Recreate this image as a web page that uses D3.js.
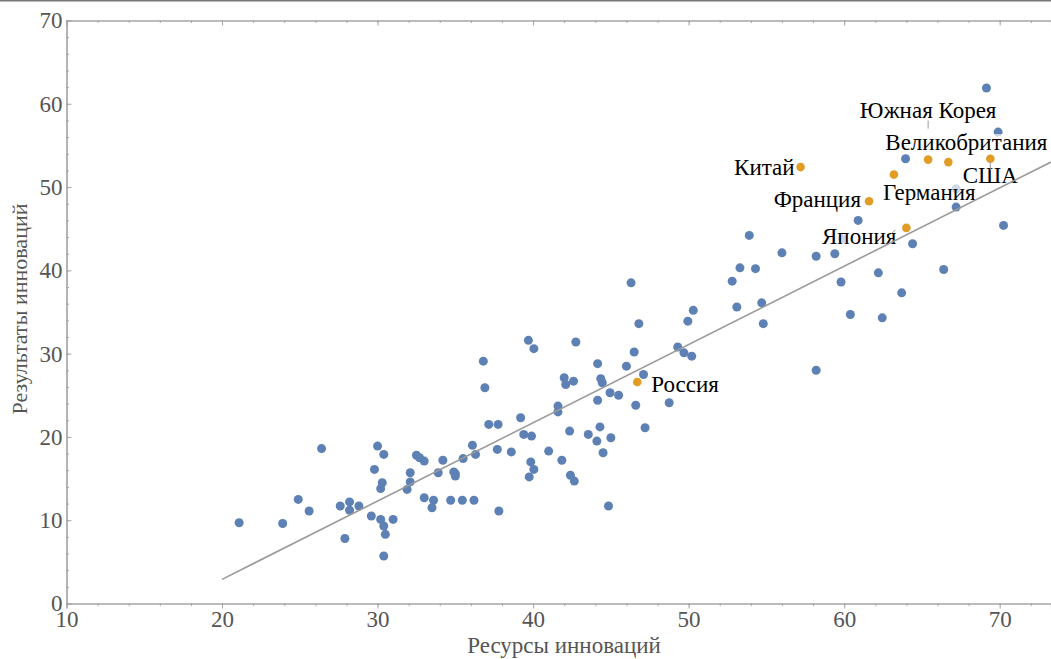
<!DOCTYPE html>
<html>
<head>
<meta charset="utf-8">
<script src="https://cdn.jsdelivr.net/npm/d3@7"></script>
<style>
  body { margin: 0; background: #fff; }
  svg { display: block; }
  text { font-family: "Liberation Serif", "DejaVu Serif", serif; }
</style>
</head>
<body>
<svg id="chart"></svg>
<script>
// innovation inputs (x) vs outputs (y)
let otherX = [21.1, 23.9, 24.9, 25.6, 26.4, 27.6, 28.2, 28.2, 27.9, 28.8, 29.6, 30.0, 30.4, 29.8, 30.3,
  30.2, 30.2, 30.4, 31.0, 30.5, 30.4, 31.9, 32.1, 32.1, 32.5, 32.7, 33.0, 33.0, 33.6, 33.5, 33.9, 34.2,
  34.7, 34.9, 35.0, 35.0, 35.45, 35.5, 36.1, 36.3, 36.2, 37.15, 37.75, 37.7, 37.8, 36.8, 36.9, 38.6,
  39.2, 39.4, 39.9, 39.7, 40.05, 39.85, 40.05, 39.75, 41.0, 41.6, 41.6, 42.0, 42.1, 42.6, 42.75, 42.35,
  41.85, 42.4, 42.65, 43.55, 44.15, 44.35, 44.45, 44.15, 44.3, 44.1, 44.5, 45.0, 44.95, 45.5, 46.0,
  46.5, 46.8, 47.1, 46.6, 48.75, 47.2, 44.85, 49.3, 49.7, 50.2, 49.95, 46.3, 60.9, 67.2, 70.25, 53.9,
  56.0, 58.2, 59.4, 64.4, 53.3, 54.3, 52.8, 59.8, 62.2, 66.4, 63.7, 53.1, 54.7, 54.8, 50.3, 60.4, 62.45,
  58.2, 69.15, 69.9, 63.95, 67.2, 59.9];
let otherY = [9.7, 9.6, 12.5, 11.1, 18.6, 11.7, 12.2, 11.2, 7.8, 11.7, 10.5, 18.9, 17.9, 16.1, 14.5,
  13.8, 10.1, 9.3, 10.1, 8.3, 5.7, 13.7, 15.7, 14.6, 17.8, 17.5, 17.1, 12.7, 12.4, 11.5, 15.7, 17.2,
  12.4, 15.8, 15.6, 15.3, 12.4, 17.4, 19.0, 17.9, 12.4, 21.5, 21.5, 18.5, 11.1, 29.1, 25.9, 18.2,
  22.3, 20.3, 20.1, 31.6, 30.6, 17.0, 16.1, 15.2, 18.3, 23.7, 23.0, 27.1, 26.3, 26.7, 31.4, 20.7,
  17.2, 15.4, 14.7, 20.3, 28.8, 27.0, 26.5, 24.4, 21.2, 19.5, 18.1, 19.9, 25.3, 25.0, 28.5,
  30.2, 33.6, 27.5, 23.8, 24.1, 21.1, 11.7, 30.8, 30.1, 29.7, 33.9, 38.5, 46.0, 47.6, 45.4, 44.2,
  42.1, 41.7, 42.0, 43.2, 40.3, 40.2, 38.7, 38.6, 39.7, 40.1, 37.3, 35.6, 36.1, 33.6, 35.2, 34.7, 34.3,
  28.0, 61.9, 56.6, 53.4, 49.8, 43.8];

let named = ['Китай', 'Франция', 'Германия', 'Япония', 'Южная Корея', 'Великобритания', 'США', 'Россия'];
let namedX = [57.2, 61.6, 63.2, 64.0, 65.4, 66.7, 69.4, 46.7];
let namedY = [52.4, 48.3, 51.5, 45.1, 53.3, 53.0, 53.4, 26.6];

let xTicks = [10, 20, 30, 40, 50, 60, 70];
let yTicks = [0, 10, 20, 30, 40, 50, 60, 70];
let fitLine = [[20, 2.9], [73.3, 53.0]];

let width = 1051, height = 659;
let blue = '#5e81b5', orange = '#e19c24', frame = '#a6a6a6', tickText = '#555';

let svg = d3.select('#chart').attr('width', width).attr('height', height);

let x = d3.scaleLinear().domain([10, 73.3]).range([66.5, 1051]);
let y = d3.scaleLinear().domain([0, 70]).range([603.5, 20.5]);

// thin border at very top
svg.append('line').attr('x1', 0).attr('x2', width).attr('y1', 0.5).attr('y2', 0.5)
  .attr('stroke', '#777').attr('stroke-width', 2);

// frame axes
let minorX = d3.range(10, 73.3, 2);
let minorY = d3.range(0, 70.1, 2);

svg.append('g').attr('transform', `translate(0,${y(0)})`)
  .call(d3.axisBottom(x).tickValues(minorX).tickSize(2.5).tickFormat(''));
svg.append('g').attr('transform', `translate(0,${y(0)})`)
  .call(d3.axisBottom(x).tickValues(xTicks).tickSize(5).tickPadding(2).tickFormat(d3.format('d')));
svg.append('g').attr('transform', `translate(0,${y(70)})`)
  .call(d3.axisBottom(x).tickValues(minorX).tickSize(2.5).tickFormat(''));
svg.append('g').attr('transform', `translate(0,${y(70)})`)
  .call(d3.axisBottom(x).tickValues(xTicks).tickSize(5).tickFormat(''));
svg.append('g').attr('transform', `translate(${x(10)},0)`)
  .call(d3.axisRight(y).tickValues(minorY).tickSize(2.5).tickFormat(''));
svg.append('g').attr('transform', `translate(${x(10)},0)`)
  .call(d3.axisLeft(y).tickValues(yTicks).tickSize(-5).tickPadding(4).tickFormat(d3.format('d')));

svg.selectAll('.domain').attr('stroke', frame).attr('stroke-width', 1.2);
svg.selectAll('.tick line').attr('stroke', frame);
svg.selectAll('.tick text').attr('fill', tickText).style('font-size', '23px')
  .style('font-family', '"Liberation Serif", serif');

// axis titles
svg.append('text').attr('x', 564).attr('y', 653).attr('text-anchor', 'middle')
  .attr('fill', tickText).style('font-size', '23px').text('Ресурсы инноваций');
svg.append('text').attr('transform', 'translate(27,309) rotate(-90)').attr('text-anchor', 'middle')
  .attr('fill', tickText).style('font-size', '22px').text('Результаты инноваций');

// points
let others = otherX.map((v, i) => ({ x: v, y: otherY[i] }));
svg.append('g').selectAll('circle').data(others).enter().append('circle')
  .attr('cx', d => x(d.x)).attr('cy', d => y(d.y)).attr('r', 4.5).attr('fill', blue);

let countries = named.map((n, i) => ({ name: n, x: namedX[i], y: namedY[i] }));
svg.append('g').selectAll('circle').data(countries).enter().append('circle')
  .attr('cx', d => x(d.x)).attr('cy', d => y(d.y)).attr('r', 4.3).attr('fill', orange);

// label placement (pixel offsets from the point)
let labelPos = {
  'Китай': { dx: -6, dy: 8, anchor: 'end' },
  'Франция': { dx: -8, dy: 6, anchor: 'end' },
  'Германия': { dx: -11, dy: 25, anchor: 'start' },
  'Япония': { dx: -10, dy: 16, anchor: 'end', lead: [[-15, 6], [-11, 2]] },
  'Южная Корея': { dx: 0, dy: -42, anchor: 'middle', lead: [[0, -39], [0, -31]] },
  'Великобритания': { dx: 18, dy: -12, anchor: 'middle' },
  'США': { dx: 0, dy: 24, anchor: 'middle', lead: [[0, 3], [0, 11]] },
  'Россия': { dx: 14, dy: 10, anchor: 'start' }
};

let labels = svg.append('g');
countries.forEach(d => {
  let p = labelPos[d.name];
  let px = x(d.x), py = y(d.y);
  let g = labels.append('g');
  let bg = g.append('rect');
  let t = g.append('text').attr('x', px + p.dx).attr('y', py + p.dy)
    .attr('text-anchor', p.anchor).attr('fill', '#000').style('font-size', '23px').text(d.name);
  let bb = t.node().getBBox();
  bg.attr('x', bb.x).attr('y', bb.y + 4).attr('width', bb.width).attr('height', bb.height - 7)
    .attr('fill', '#fff').attr('fill-opacity', 0.7);
  if (p.lead) {
    g.append('line').attr('x1', px + p.lead[0][0]).attr('y1', py + p.lead[0][1])
      .attr('x2', px + p.lead[1][0]).attr('y2', py + p.lead[1][1])
      .attr('stroke', '#999').attr('stroke-width', 1);
  }
});

// fitted line on top
svg.append('path').datum(fitLine)
  .attr('d', d3.line().x(d => x(d[0])).y(d => y(d[1])))
  .attr('fill', 'none').attr('stroke', '#9a9a9a').attr('stroke-width', 1.6);
</script>
</body>
</html>
